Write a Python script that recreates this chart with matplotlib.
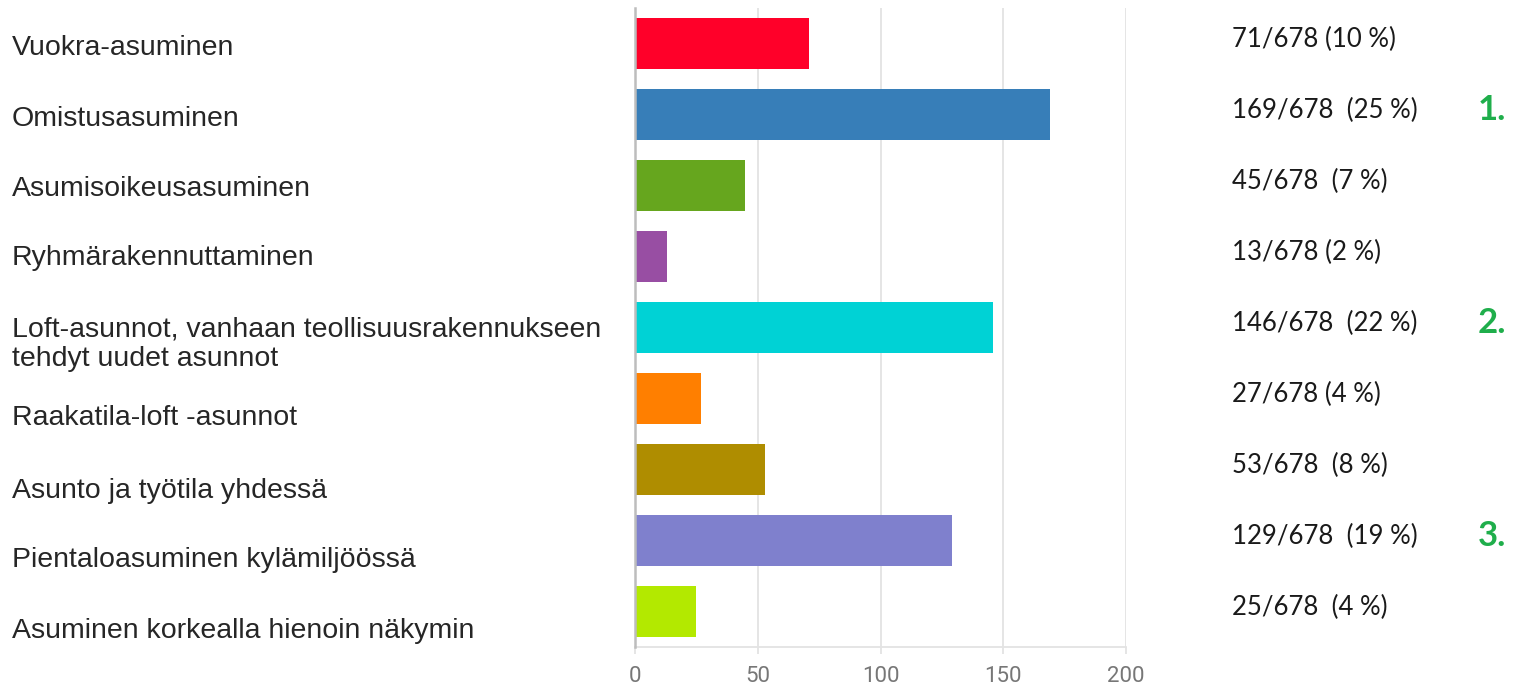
#!/usr/bin/env python3
"""Housing preference survey: horizontal bar chart with counts and top-3 ranks."""

import matplotlib

matplotlib.use("Agg")
import matplotlib.pyplot as plt
from matplotlib.transforms import blended_transform_factory

# --- data ---
CATEGORIES = [
    "Vuokra-asuminen",
    "Omistusasuminen",
    "Asumisoikeusasuminen",
    "Ryhmärakennuttaminen",
    "Loft-asunnot, vanhaan teollisuusrakennukseen\ntehdyt uudet asunnot",
    "Raakatila-loft -asunnot",
    "Asunto ja työtila yhdessä",
    "Pientaloasuminen kylämiljöössä",
    "Asuminen korkealla hienoin näkymin",
]
COUNTS = [71, 169, 45, 13, 146, 27, 53, 129, 25]
PERCENTS = [10, 25, 7, 2, 22, 4, 8, 19, 4]
TOTAL = 678
RANKS = {1: "1.", 4: "2.", 7: "3."}  # category index -> rank label
X_TICKS = [0, 50, 100, 150, 200]

# --- style ---
COLORS = ["#ff0029", "#377eb8", "#66a61e", "#984ea3", "#00d2d5",
          "#ff7f00", "#af8d00", "#7f80cd", "#b3e900"]
GAPS = [" ", "  ", "  ", " ", "  ", " ", "  ", "  ", "  "]
LABEL_SHIFT = [0.07, 0.07, 0.05, 0.02, 0.235, 0.28, 0.3, 0.28, 0.27]
GREEN = "#1fae4b"
GRID = "#e3e3e3"


def main():
    W, H = 1521, 691
    fig = plt.figure(figsize=(W / 100, H / 100), dpi=100)
    ax = fig.add_axes([635 / W, 44 / H, (1126 - 635) / W, (647 - 8) / H])

    ypos = list(range(len(CATEGORIES)))
    ax.barh(ypos, COUNTS, height=0.73, color=COLORS, zorder=3)

    ax.set_xlim(0, 200)
    ax.set_ylim(len(CATEGORIES) - 0.5, -0.5)
    ax.set_xticks(X_TICKS)
    ax.set_yticks([])
    ax.grid(axis="x", color=GRID, linewidth=1.3, zorder=0)
    ax.set_axisbelow(True)
    for s in ("top", "right"):
        ax.spines[s].set_visible(False)
    ax.spines["left"].set_color("#bdbdbd")
    ax.spines["left"].set_linewidth(1.8)
    ax.spines["left"].set_zorder(4)
    ax.spines["bottom"].set_color(GRID)
    ax.spines["bottom"].set_linewidth(1.3)
    ax.tick_params(axis="x", length=5, width=1.3, color=GRID, pad=9,
                   labelsize=16, labelcolor="#777777")
    for lab in ax.get_xticklabels():
        lab.set_family("Roboto")

    # category labels at the far left of the figure
    tr = blended_transform_factory(fig.transFigure, ax.transData)
    for i, name in enumerate(CATEGORIES):
        fig.text(12 / W, i + LABEL_SHIFT[i], name, transform=tr,
                 ha="left", va="center", fontsize=20.5, color="#262626",
                 family="Liberation Sans", linespacing=1.15)

    # counts and shares on the right
    for i, (c, p) in enumerate(zip(COUNTS, PERCENTS)):
        fig.text(1232 / W, i - 0.05, f"{c}/{TOTAL}{GAPS[i]}({p} %)",
                 transform=tr, ha="left", va="center", fontsize=18.5,
                 color="#1a1a1a", family="Lato")

    for i, rank in RANKS.items():
        fig.text(1506 / W, i - 0.07, rank, transform=tr, ha="right",
                 va="center", fontsize=25, fontweight="bold", color=GREEN,
                 family="Lato")

    fig.savefig("out.png", dpi=100, facecolor="white")


if __name__ == "__main__":
    main()
